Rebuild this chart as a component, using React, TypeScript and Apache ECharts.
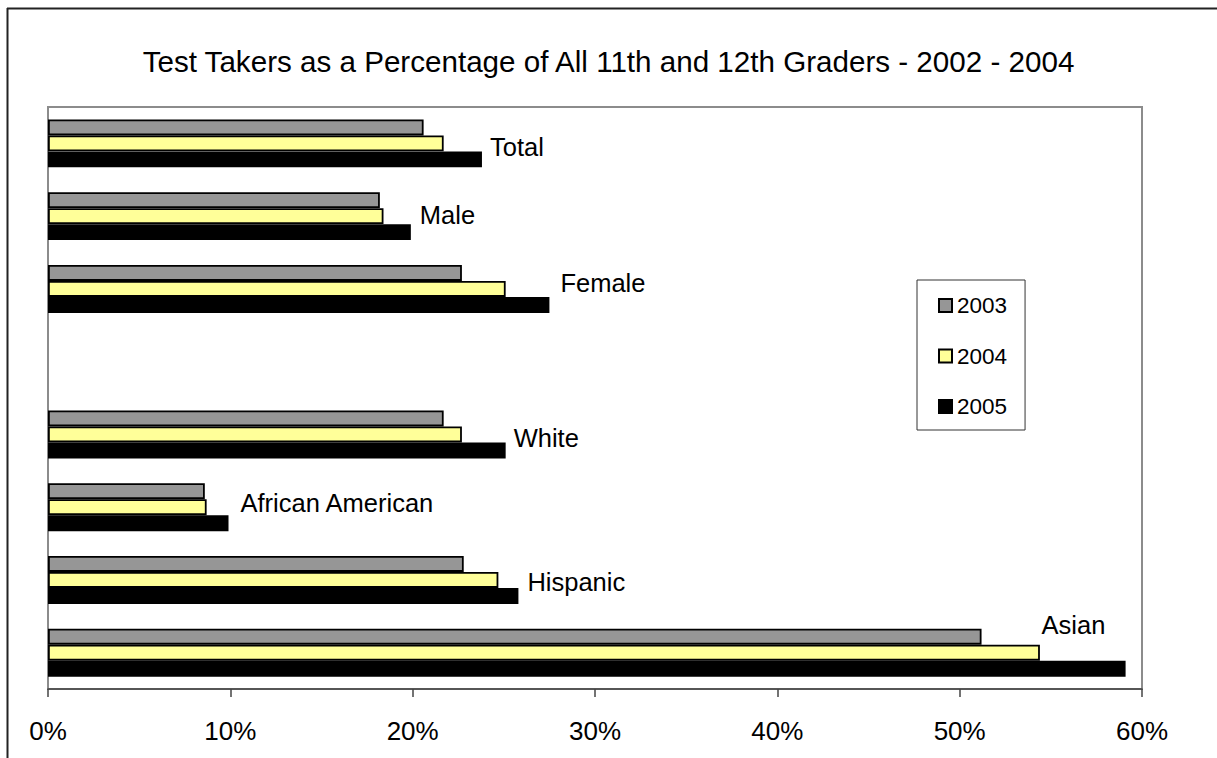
import React, { useEffect, useRef } from "react";
import * as echarts from "echarts";

const categories = ["Total", "Male", "Female", "", "White", "African American", "Hispanic", "Asian"];
const years = ["2003", "2004", "2005"];
const values2003 = [20.6, 18.2, 22.7, null, 21.7, 8.6, 22.8, 51.2];
const values2004 = [21.7, 18.4, 25.1, null, 22.7, 8.7, 24.7, 54.4];
const values2005 = [23.8, 19.9, 27.5, null, 25.1, 9.9, 25.8, 59.1];
const xTicks = [0, 10, 20, 30, 40, 50, 60];

// label placement tweaks (style only)
const labelOffsets: [number, number][] = [
  [0, -12], [1, -17], [3, -22], [0, 0], [0, -12], [4, -20], [1, -14], [-92, -44],
];

const FONT = "'Liberation Sans', Arial, sans-serif";

export default function App() {
  const ref = useRef<HTMLDivElement>(null);
  useEffect(() => {
    if (!ref.current) return;
    const chart = echarts.init(ref.current, null, { renderer: "svg" });
    const colors = ["#969696", "#FFFF99", "#000000"];
    const data = [values2003, values2004, values2005];
    chart.setOption({
      animation: false,
      textStyle: { fontFamily: FONT },
      title: {
        text: "Test Takers as a Percentage of All 11th and 12th Graders - 2002 - 2004",
        left: "center",
        top: 41,
        textStyle: { fontFamily: FONT, fontSize: 29.6, fontWeight: "normal", color: "#000" },
      },
      legend: {
        orient: "vertical",
        left: 917,
        top: 280,
        padding: [14, 18, 12, 21],
        borderColor: "#333",
        borderWidth: 1,
        backgroundColor: "#fff",
        itemWidth: 13,
        itemHeight: 13,
        itemGap: 27.5,
        icon: "rect",
        textStyle: { fontFamily: FONT, fontSize: 22.5, color: "#000", lineHeight: 22 },
        data: years,
      },
      grid: {
        left: 48,
        top: 107,
        right: 75,
        bottom: 69,
        show: true,
        borderColor: "#8c8c8c",
        borderWidth: 2,
        backgroundColor: "transparent",
      },
      xAxis: {
        type: "value",
        min: xTicks[0],
        max: xTicks[xTicks.length - 1],
        interval: 10,
        splitLine: { show: false },
        axisLine: { show: true, lineStyle: { color: "#444", width: 1.5 } },
        axisTick: { show: true, length: 8, lineStyle: { color: "#444", width: 1.5 } },
        axisLabel: {
          formatter: "{value}%",
          fontFamily: FONT,
          fontSize: 26,
          color: "#000",
          margin: 29,
        },
      },
      yAxis: {
        type: "category",
        data: categories,
        inverse: true,
        axisLine: { show: false },
        axisTick: { show: false },
        axisLabel: { show: false },
        splitLine: { show: false },
      },
      series: years.map((y, i) => ({
        name: y,
        type: "bar",
        barWidth: 16,
        barGap: "0%",
        itemStyle: { color: colors[i], borderColor: "#000", borderWidth: 1.8 },
        data: data[i].map((v, j) =>
          i === 2
            ? {
                value: v,
                label: {
                  show: v !== null,
                  position: "right",
                  distance: 8,
                  offset: labelOffsets[j],
                  formatter: "{b}",
                  fontFamily: FONT,
                  fontSize: 25.5,
                  color: "#000",
                },
              }
            : v
        ),
      })),
      graphic: [
        { type: "line", shape: { x1: 7, y1: 8.5, x2: 1217, y2: 8.5 }, style: { stroke: "#222", lineWidth: 2 } },
        { type: "line", shape: { x1: 7.5, y1: 8, x2: 7.5, y2: 758 }, style: { stroke: "#222", lineWidth: 2 } },
      ],
    });
    return () => chart.dispose();
  }, []);
  return (
    <div
      ref={ref}
      style={{ position: "absolute", left: 0, top: 0, width: 1217, height: 758, background: "#fff" }}
    />
  );
}
